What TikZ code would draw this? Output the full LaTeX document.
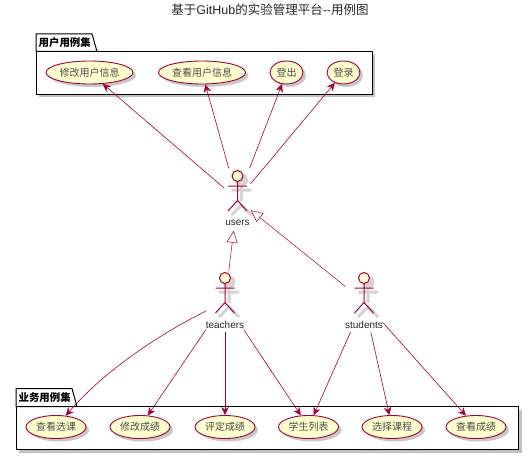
\documentclass[tikz,border=0pt]{standalone}
\usepackage{fontspec}
\setmainfont{Liberation Sans}
\newfontfamily\cjk{Noto Sans CJK SC}
\usetikzlibrary{arrows.meta, shapes.geometric, shadows, positioning}

\definecolor{umlred}{HTML}{A80036}
\definecolor{umlfill}{HTML}{FEFECE}
\tikzset{
	usecase/.style={ellipse, draw=umlred, fill=umlfill, line width=0.9pt, minimum height=23pt, inner sep=0pt,
		font=\fontsize{10}{10}\cjk, text=black!70,
		drop shadow={shadow xshift=3pt, shadow yshift=-3pt, fill=black!35, opacity=0.6}},
	actorbox/.style={rectangle, inner sep=0pt},
	actorname/.style={font=\fontsize{10}{10}\selectfont, text=black!85, inner sep=0pt},
	stick/.style={draw=umlred, line width=1pt},
	stickshadow/.style={draw=black!17, line width=3pt},
	pkgframe/.style={draw=black, fill=white, line width=1pt,
		drop shadow={shadow xshift=3pt, shadow yshift=-3pt, fill=black!35, opacity=0.7}},
	pkgtitle/.style={font=\fontsize{10.4}{10.4}\cjk\bfseries, inner sep=0pt},
	assoc/.style={draw=umlred, line width=0.6pt, -{Stealth[length=8pt, width=7.5pt, inset=2.5pt]}},
	general/.style={draw=umlred, line width=0.5pt, -{Triangle[open, length=12pt, width=11pt, fill=white]}}
}

\begin{document}
\begin{tikzpicture}[x=1pt, y=-1pt]
	\useasboundingbox (0,0) rectangle (532,457);
	\node[font=\fontsize{12.5}{12.5}\selectfont, text=black!85, inner sep=0pt] (title) at (270,10)
		{{\cjk 基于}GitHub{\cjk 的实验管理平台}-{}-{\cjk 用例图}};

	% packages
	\draw[pkgframe] (36,51.5) rectangle (372,94.5);
	\draw[line width=1pt, fill=white] (36,51.5) -- (36,34) -- (92,34) -- (97,51.5) -- cycle;
	\node[pkgtitle, anchor=west] (pkguser) at (38.5,43) {用户用例集};
	\draw[pkgframe] (16,406.5) rectangle (518.5,449.5);
	\draw[line width=1pt, fill=white] (16,406.5) -- (16,388.5) -- (72,388.5) -- (77,406.5) -- cycle;
	\node[pkgtitle, anchor=west] (pkgbiz) at (18.5,398) {业务用例集};

	% use cases
	\foreach \name/\x/\w/\txt in {editinfo/89.5/87/修改用户信息, viewinfo/202/87/查看用户信息,
		logout/286.5/33/登出, login/343.5/33/登录}
		\node[usecase, minimum width=\w pt] (\name) at (\x,72.5) {\txt};
	\foreach \name/\x/\txt in {viewsel/56/查看选课, editscore/140/修改成绩, ratescore/225/评定成绩,
		stulist/308.5/学生列表, choose/392/选择课程, viewscore/476/查看成绩}
		\node[usecase, minimum width=60pt] (\name) at (\x,427) {\txt};

	% actors
	\foreach \name/\x/\y/\w/\h in {users/237.5/176/26/62, teachers/225/278/38/61, students/364/278/37/61}{
		\draw[stickshadow] (\x+4,\y+10) -- (\x+4,\y+25) (\x-6,\y+14) -- (\x+14,\y+14)
			(\x-6,\y+39) -- (\x+4,\y+29) -- (\x+14,\y+39);
		\fill[black!17] (\x+4,\y+4) circle (6.5);
		\draw[stick, fill=umlfill] (\x,\y) circle (5.5);
		\draw[stick] (\x,\y+5.5) -- (\x,\y+24.5) (\x-9.5,\y+10) -- (\x+9.5,\y+10)
			(\x-9.5,\y+35) -- (\x,\y+24.5) -- (\x+9.5,\y+35);
		\node[actorname] (\name name) at (\x,\y+47) {\name};
		\node[actorbox, minimum width=\w pt, minimum height=\h pt] (\name) at (\x,\y+23.5) {};
	}

	% connectors
	\foreach \goal in {editinfo, viewinfo, logout, login}
		\draw[assoc] (users) -- (\goal);
	\draw[general] (teachers) -- (users);
	\draw[general] (students) -- (users);
	\draw[assoc] (teachers) .. controls (160,334) and (105,370) .. (viewsel);
	\foreach \goal in {editscore, ratescore, stulist}
		\draw[assoc] (teachers) -- (\goal);
	\foreach \goal in {stulist, choose, viewscore}
		\draw[assoc] (students) -- (\goal);
\end{tikzpicture}
\end{document}
